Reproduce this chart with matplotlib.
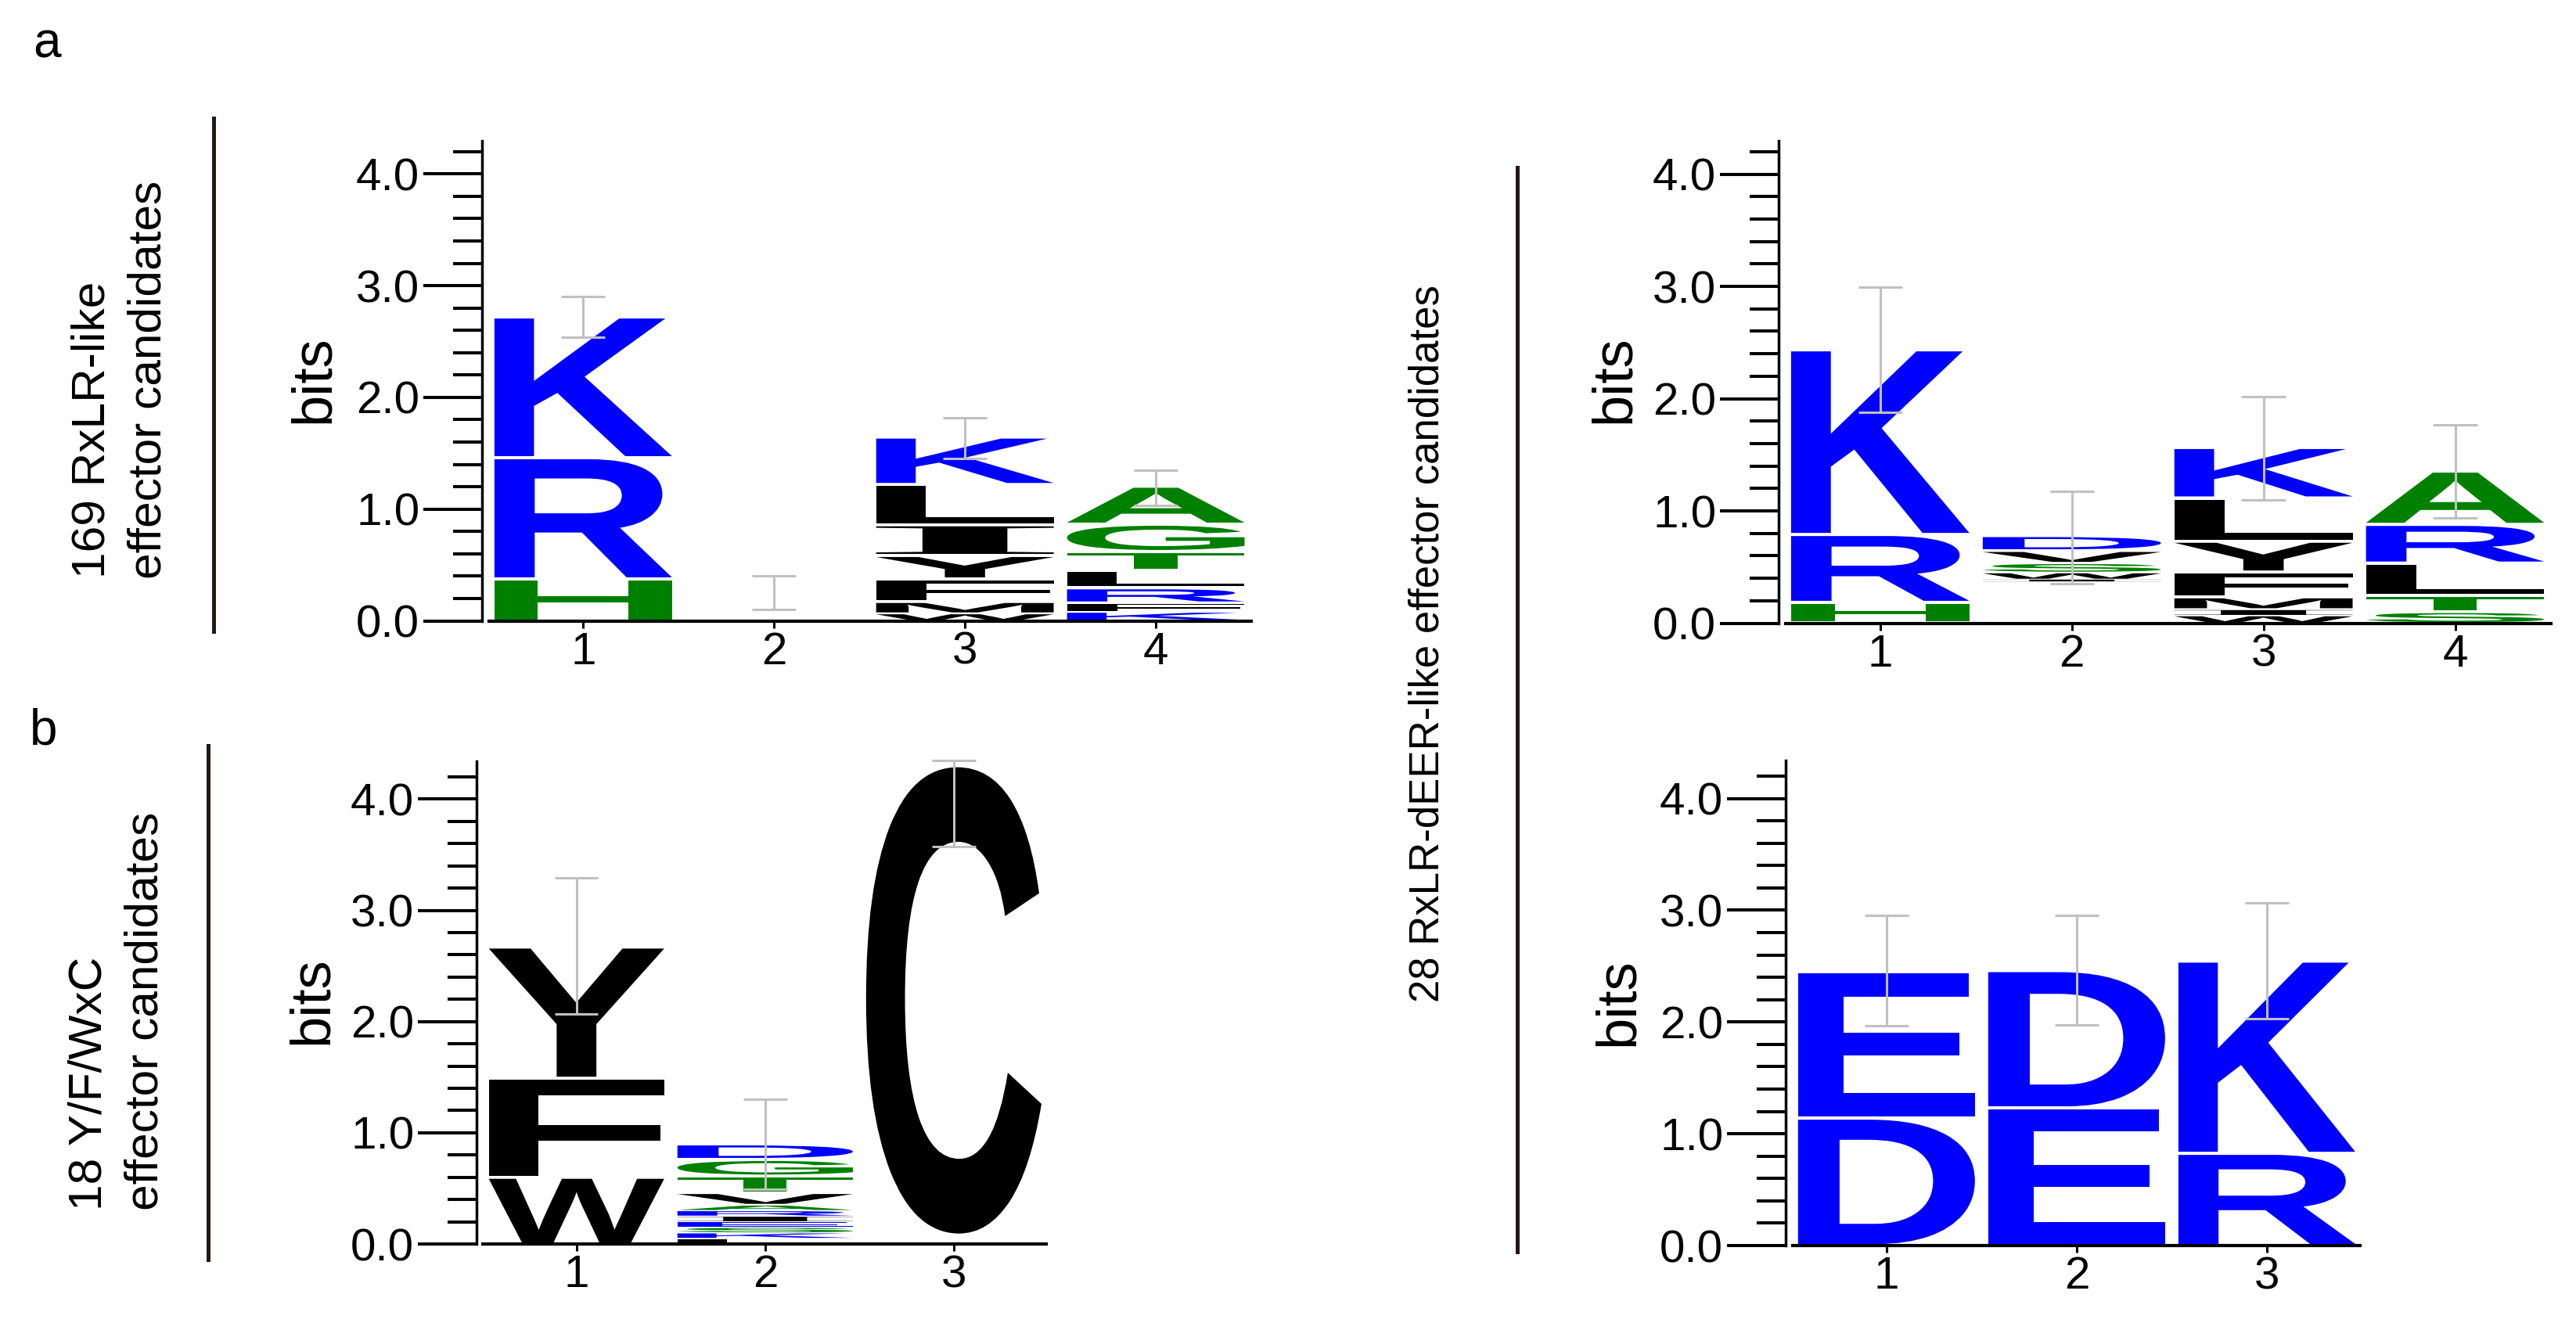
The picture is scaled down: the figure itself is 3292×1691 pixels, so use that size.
import matplotlib
matplotlib.use('Agg')
import matplotlib.pyplot as plt
from matplotlib.textpath import TextPath
from matplotlib.patches import PathPatch
from matplotlib.font_manager import FontProperties
from matplotlib.transforms import Affine2D
from matplotlib.lines import Line2D

plt.rcParams['font.family'] = ['Liberation Sans', 'DejaVu Sans']

# ---------------- data (bottom -> top in each column, heights in bits) ----------------
# a) 169 RxLR-like effector candidates
rxlr_pos = [1, 2, 3, 4]
rxlr_base = [0.0, 0.0, 0.0, 0.0]
rxlr_letters = [['H', 'R', 'K'], [], ['W', 'M', 'F', 'Y', 'I', 'L', 'K'],
                ['K', 'F', 'R', 'L', 'T', 'G', 'A']]
rxlr_heights = [[0.375, 1.085, 1.26], [], [0.065, 0.105, 0.205, 0.21, 0.275, 0.36, 0.425],
                [0.08, 0.08, 0.135, 0.155, 0.17, 0.245, 0.34]]
rxlr_err_lo = [2.54, 0.10, 1.456, 1.035]
rxlr_err_hi = [2.90, 0.40, 1.82, 1.35]

# 28 RxLR-dEER-like effector candidates (RxLR motif)
deer_pos = [1, 2, 3, 4]
deer_base = [0.0, 0.37, 0.0, 0.0]
deer_letters = [['H', 'R', 'K'], ['I', 'W', 'S', 'V', 'D'],
                ['W', 'I', 'M', 'F', 'Y', 'L', 'K'], ['S', 'T', 'L', 'R', 'A']]
deer_heights = [[0.185, 0.605, 1.645], [0.02, 0.06, 0.085, 0.11, 0.135],
                [0.068, 0.054, 0.11, 0.223, 0.275, 0.385, 0.45],
                [0.10, 0.145, 0.29, 0.345, 0.475]]
deer_err_lo = [1.876, 0.354, 1.095, 0.94]
deer_err_hi = [2.99, 1.176, 2.02, 1.766]

# b) 18 Y/F/WxC effector candidates
yfwc_pos = [1, 2, 3]
yfwc_base = [0.0, 0.0, 0.08]
yfwc_letters = [['W', 'F', 'Y'],
                ['L', 'K', 'S', 'E', 'I', 'R', 'A', 'V', 'T', 'G', 'D'],
                ['C']]
yfwc_heights = [[0.60, 0.89, 1.18],
                [0.05, 0.05, 0.05, 0.05, 0.05, 0.05, 0.05, 0.11, 0.15, 0.15, 0.14],
                [4.22]]
yfwc_err_lo = [2.07, 0.49, 3.57]
yfwc_err_hi = [3.295, 1.30, 4.35]

# 28 RxLR-dEER-like effector candidates (dEER motif)
dEER_pos = [1, 2, 3]
dEER_base = [0.0, 0.0, 0.0]
dEER_letters = [['D', 'E'], ['E', 'D'], ['R', 'K']]
dEER_heights = [[1.14, 1.31], [1.232, 1.228], [0.825, 1.72]]
dEER_err_lo = [1.966, 1.975, 2.03]
dEER_err_hi = [2.953, 2.953, 3.066]

y_major = [0, 1, 2, 3, 4]
y_minor = [0.2, 0.4, 0.6, 0.8, 1.2, 1.4, 1.6, 1.8, 2.2, 2.4, 2.6, 2.8,
           3.2, 3.4, 3.6, 3.8, 4.2]

# hydrophobicity colour scheme
BLUE, GREEN, BLACK = '#0000FF', '#008000', '#000000'
scheme = {}
for c in 'RKDENQ':
    scheme[c] = BLUE
for c in 'SGHTAP':
    scheme[c] = GREEN
for c in 'YVMCLFIW':
    scheme[c] = BLACK

# ---------------- figure ----------------
W, H = 3292, 1691
fig = plt.figure(figsize=(W / 100, H / 100), dpi=100)

FP = FontProperties(family='Liberation Sans', weight='bold')
FP_I = FontProperties(family='Liberation Serif', weight='bold')


def rect(left, top, width, height):
    return [left / W, 1 - (top + height) / H, width / W, height / H]


def draw_letter(ax, ch, x, y0, h, w=0.93):
    fp = FP_I if ch == 'I' else FP
    tp = TextPath((0, 0), ch, size=1, prop=fp)
    bb = tp.get_extents()
    pad = min(0.014, 0.1 * h)
    hh = h - 2 * pad
    tr = (Affine2D().translate(-bb.x0, -bb.y0)
          .scale(w / bb.width, hh / bb.height)
          .translate(x - w / 2, y0 + pad))
    path = tr.transform_path(tp)
    ax.add_patch(PathPatch(path, fc=scheme[ch], ec='none', lw=0, zorder=2))


def logo(axrect, pos, base, letters, heights, elo, ehi, xlim, ylim):
    ax = fig.add_axes(axrect)
    ax.set_xlim(*xlim)
    ax.set_ylim(*ylim)
    ax.patch.set_alpha(0)
    for p, b, ls, hs in zip(pos, base, letters, heights):
        y = b
        for ch, h in zip(ls, hs):
            draw_letter(ax, ch, p, y, h)
            y += h
    for p, lo, hi in zip(pos, elo, ehi):
        kw = dict(color='#c0c0c0', lw=2.2, zorder=3, clip_on=False,
                  solid_capstyle='butt')
        ax.plot([p, p], [lo, hi], **kw)
        ax.plot([p - 0.115, p + 0.115], [lo, lo], **kw)
        ax.plot([p - 0.115, p + 0.115], [hi, hi], **kw)
    for s in ('top', 'right'):
        ax.spines[s].set_visible(False)
    ax.spines['left'].set_linewidth(2.5)
    ax.spines['bottom'].set_linewidth(3.0)
    ax.spines['bottom'].set_bounds(xlim[0] + 0.035, xlim[1])
    ax.set_yticks(y_major)
    ax.set_yticklabels([f'{v:.1f}' for v in y_major])
    ax.set_yticks(y_minor, minor=True)
    ax.set_xticks(pos)
    ax.set_xticklabels([str(p) for p in pos])
    ax.tick_params(axis='y', which='major', length=54, width=2.9, pad=3.5,
                   labelsize=42, direction='out')
    ax.tick_params(axis='y', which='minor', length=26.6, width=2.9, direction='out')
    ax.tick_params(axis='x', which='major', length=6.5, width=2.2, pad=3,
                   labelsize=42, direction='out')
    return ax


# panel a, left
logo(rect(616, 179.5, 983, 614), rxlr_pos, rxlr_base, rxlr_letters, rxlr_heights,
     rxlr_err_lo, rxlr_err_hi, (0.47, 4.5), (0, 4.3))
# top right
logo(rect(2273, 179.5, 987, 617), deer_pos, deer_base, deer_letters, deer_heights,
     deer_err_lo, deer_err_hi, (0.47, 4.5), (0, 4.3))
# panel b, left
logo(rect(609, 973, 728, 617), yfwc_pos, yfwc_base, yfwc_letters, yfwc_heights,
     yfwc_err_lo, yfwc_err_hi, (0.47, 3.49), (0, 4.34))
# bottom right
logo(rect(2282, 972, 734, 620), dEER_pos, dEER_base, dEER_letters, dEER_heights,
     dEER_err_lo, dEER_err_hi, (0.47, 3.49), (0, 4.34))


def fx(x):
    return x / W


def fy(y):
    return 1 - y / H


# "bits" labels
for (bx, by) in [(401, 485), (399, 1279), (2063, 485), (2068, 1281)]:
    fig.text(fx(bx), fy(by), 'bits', rotation=90, ha='center', va='center',
             fontsize=52)

# separator lines
for (x, y0, y1) in [(273, 151, 807), (266, 953, 1610), (1939, 214, 1600)]:
    fig.add_artist(Line2D([fx(x), fx(x)], [fy(y0), fy(y1)], color='#231815',
                          lw=3.6, transform=fig.transFigure))

# group labels
lab = dict(rotation=90, rotation_mode='anchor', ha='left', va='baseline', fontsize=43.5)
fig.text(fx(133), fy(739), '169 RxLR-like', **lab)
fig.text(fx(205), fy(740), 'effector candidates', **lab)
fig.text(fx(130), fy(1547), '18 Y/F/WxC', **lab)
fig.text(fx(201), fy(1547), 'effector candidates', **lab)
lab2 = dict(lab)
lab2['fontsize'] = 38
fig.text(fx(1838), fy(1281), '28 RxLR-dEER-like effector candidates', **lab2)

# panel letters
fig.text(fx(42), fy(74), 'a', ha='left', va='baseline', fontsize=46)
fig.text(fx(38), fy(952), 'b', ha='left', va='baseline', fontsize=46)

fig.savefig('out.png', dpi=100)
